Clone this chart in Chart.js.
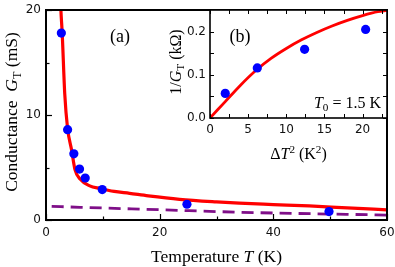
<!DOCTYPE html>
<html>
<head>
<meta charset="utf-8">
<script src="https://cdn.jsdelivr.net/npm/chart.js@4"></script>
<style>
  html, body { margin: 0; padding: 0; background: #fff; }
  #wrap { position: relative; width: 395px; height: 267px; }
  #mainChart { position: absolute; left: 0; top: 0; }
  #insetChart { position: absolute; left: 150px; top: 0; }
</style>
</head>
<body>
<div id="wrap">
  <canvas id="mainChart" width="395" height="267"></canvas>
  <canvas id="insetChart" width="245" height="165"></canvas>
</div>
<script>
// main panel (a): conductance vs temperature
const measT = [2.7, 3.8, 4.9, 5.9, 6.9, 9.9, 24.8, 49.8];
const measG = [17.8, 8.6, 6.3, 4.85, 4.0, 2.9, 1.5, 0.8];
const fitT = [2.55, 2.62, 2.85, 3.3, 3.8, 4.5, 5.1, 6.0, 7.7, 9.5, 12, 14.7, 18, 23.5, 30, 34, 40, 46.3, 53, 60];
const fitG = [21, 20, 17.8, 12, 8.7, 6.67, 4.8, 3.9, 3.25, 3.0, 2.72, 2.54, 2.3, 1.97, 1.72, 1.6, 1.47, 1.34, 1.15, 0.97];
const bgT = [1, 6, 20, 34, 60];
const bgG = [1.3, 1.21, 0.98, 0.74, 0.47];
const xTicks = [0, 20, 40, 60];
const xMinor = [10, 30, 50];
const yTicks = [0, 10, 20];
const yMinor = [5, 15];

// inset (b): 1/G vs dT^2
const insX = [2.0, 6.2, 12.4, 20.4];
const insY = [0.057, 0.116, 0.159, 0.205];
const insFitX = [0, 2, 4, 6, 8, 10, 12, 14, 16, 18, 20, 22, 23.2];
const insFitY = [0, 0.038, 0.076, 0.110, 0.138, 0.161, 0.181, 0.198, 0.213, 0.226, 0.237, 0.246, 0.249];
const insXTicks = [0, 5, 10, 15, 20];
const insXMinor = [2.5, 7.5, 12.5, 17.5, 22.5];
const insYTicks = [0, 0.1, 0.2];
const insYMinor = [0.05, 0.15];

const SERIF = '"Liberation Serif", "DejaVu Serif", serif';
const SANS = '"DejaVu Sans", sans-serif';
const pts = (xs, ys) => xs.map((x, i) => ({ x, y: ys[i] }));

// draw text made of roman / italic / sub / sup pieces, centred (or aligned) on cx,cy
function drawRich(ctx, parts, cx, cy, size, rot, align) {
  const fontOf = p => {
    const small = p[1] === 's' || p[1] === 'p';
    const sz = small ? size * 0.7 : size;
    return (p[1] === 'i' ? 'italic ' : '') + sz + 'px ' + SERIF;
  };
  ctx.save();
  ctx.translate(cx, cy);
  ctx.rotate(rot || 0);
  ctx.fillStyle = '#000';
  ctx.textBaseline = 'alphabetic';
  ctx.textAlign = 'left';
  let total = 0;
  parts.forEach(p => { ctx.font = fontOf(p); total += ctx.measureText(p[0]).width; });
  let x = align === 'right' ? -total : align === 'left' ? 0 : -total / 2;
  parts.forEach(p => {
    ctx.font = fontOf(p);
    let dy = size * 0.35;
    if (p[1] === 's') dy += size * 0.22;
    if (p[1] === 'p') dy -= size * 0.38;
    ctx.fillText(p[0], x, dy);
    x += ctx.measureText(p[0]).width;
  });
  ctx.restore();
}

function frameAndTicks(chart, o) {
  const { ctx, chartArea: a, scales: { x, y } } = chart;
  ctx.save();
  ctx.strokeStyle = '#000';
  ctx.lineWidth = o.tickWidth;
  const tx = (vals, len) => vals.forEach(v => {
    const px = Math.round(x.getPixelForValue(v)) + 0.5;
    ctx.beginPath(); ctx.moveTo(px, a.bottom); ctx.lineTo(px, a.bottom - len); ctx.stroke();
    if (o.mirror) { ctx.beginPath(); ctx.moveTo(px, a.top); ctx.lineTo(px, a.top + len); ctx.stroke(); }
  });
  const ty = (vals, len) => vals.forEach(v => {
    const py = Math.round(y.getPixelForValue(v)) + 0.5;
    ctx.beginPath(); ctx.moveTo(a.left, py); ctx.lineTo(a.left + len, py); ctx.stroke();
    if (o.mirror) { ctx.beginPath(); ctx.moveTo(a.right, py); ctx.lineTo(a.right - len, py); ctx.stroke(); }
  });
  tx(o.xMajor, o.major); tx(o.xMinor, o.minor);
  ty(o.yMajor, o.major); ty(o.yMinor, o.minor);
  ctx.lineWidth = o.frame;
  ctx.strokeRect(a.left, a.top, a.right - a.left, a.bottom - a.top);
  ctx.restore();
}

function axisOpts(min, max, ticks, fmt, padding, fit) {
  return {
    type: 'linear', min, max,
    afterBuildTicks: s => { s.ticks = ticks.map(v => ({ value: v })); },
    afterFit: s => {
      fit(s);
      s.paddingLeft = 0; s.paddingRight = 0; s.paddingTop = 0; s.paddingBottom = 0;
    },
    ticks: { font: { family: SANS, size: 12 }, color: '#111', padding, callback: fmt, maxRotation: 0 },
    grid: { display: false, drawTicks: false },
    border: { display: false }
  };
}

const mainChart = new Chart(document.getElementById('mainChart'), {
  type: 'scatter',
  data: {
    datasets: [
      { data: pts(measT, measG), backgroundColor: '#0000ff', borderWidth: 0, pointRadius: 4.6, order: 0 },
      { data: pts(fitT, fitG), type: 'line', showLine: true, borderColor: '#ff0000', borderWidth: 3.2,
        pointRadius: 0, cubicInterpolationMode: 'monotone', fill: false, clip: 0, order: 1 },
      { data: pts(bgT, bgG), type: 'line', showLine: true, borderColor: '#7f0f88', borderWidth: 2.8,
        borderDash: [12, 7], pointRadius: 0, cubicInterpolationMode: 'monotone', fill: false, order: 2 }
    ]
  },
  options: {
    responsive: false, animation: false, devicePixelRatio: 1,
    layout: { padding: { left: 0, right: 8, top: 10, bottom: 0 } },
    scales: {
      x: axisOpts(0, 60, xTicks, v => v, 6, s => { s.height = 47; }),
      y: axisOpts(0, 20, yTicks, v => v, 5, s => { s.width = 46; })
    },
    plugins: { legend: { display: false }, tooltip: { enabled: false } }
  },
  plugins: [{
    id: 'deco',
    afterDraw(chart) {
      frameAndTicks(chart, { xMajor: xTicks, xMinor, yMajor: yTicks, yMinor, major: 6, minor: 3.5, tickWidth: 1.2, frame: 2, mirror: false });
      const ctx = chart.ctx, a = chart.chartArea;
      drawRich(ctx, [['Temperature ', 'r'], ['T', 'i'], [' (K)', 'r']], (a.left + a.right) / 2, 256, 17.5, 0);
      drawRich(ctx, [['Conductance  ', 'r'], ['G', 'i'], ['T', 's'], [' (mS)', 'r']], 11, 112, 17.5, -Math.PI / 2);
      drawRich(ctx, [['(a)', 'r']], 120, 36, 18, 0);
    }
  }]
});

const insetChart = new Chart(document.getElementById('insetChart'), {
  type: 'scatter',
  data: {
    datasets: [
      { data: pts(insX, insY), backgroundColor: '#0000ff', borderWidth: 0, pointRadius: 4.6, order: 0 },
      { data: pts(insFitX, insFitY), type: 'line', showLine: true, borderColor: '#ff0000', borderWidth: 2.8,
        pointRadius: 0, cubicInterpolationMode: 'monotone', fill: false, order: 1 }
    ]
  },
  options: {
    responsive: false, animation: false, devicePixelRatio: 1,
    layout: { padding: { left: 0, right: 8, top: 10, bottom: 0 } },
    scales: {
      x: axisOpts(0, 23.2, insXTicks, v => v, 5, s => { s.height = 47; }),
      y: axisOpts(0, 0.25, insYTicks, v => v.toFixed(1), 4, s => { s.width = 60; })
    },
    plugins: { legend: { display: false }, tooltip: { enabled: false } }
  },
  plugins: [{
    id: 'insetBg',
    beforeDraw(chart) {
      const { ctx, chartArea: a } = chart;
      ctx.save(); ctx.fillStyle = '#fff';
      ctx.fillRect(a.left, a.top, a.right - a.left, a.bottom - a.top);
      ctx.restore();
    },
    afterDraw(chart) {
      frameAndTicks(chart, { xMajor: insXTicks, xMinor: insXMinor, yMajor: insYTicks, yMinor: insYMinor, major: 4, minor: 4, tickWidth: 1, frame: 1.6, mirror: true });
      const ctx = chart.ctx, a = chart.chartArea;
      drawRich(ctx, [['\u0394', 'r'], ['T', 'i'], ['2', 'p'], [' (K', 'r'], ['2', 'p'], [')', 'r']], (a.left + a.right) / 2, 153, 16, 0);
      drawRich(ctx, [['1/', 'r'], ['G', 'i'], ['T', 's'], [' (k\u03a9)', 'r']], 25, 62, 16, -Math.PI / 2);
      drawRich(ctx, [['(b)', 'r']], 90, 36, 18, 0);
      drawRich(ctx, [['T', 'i'], ['0', 's'], [' = 1.5 K', 'r']], 231, 102, 16, 0, 'right');
    }
  }]
});
</script>
</body>
</html>
